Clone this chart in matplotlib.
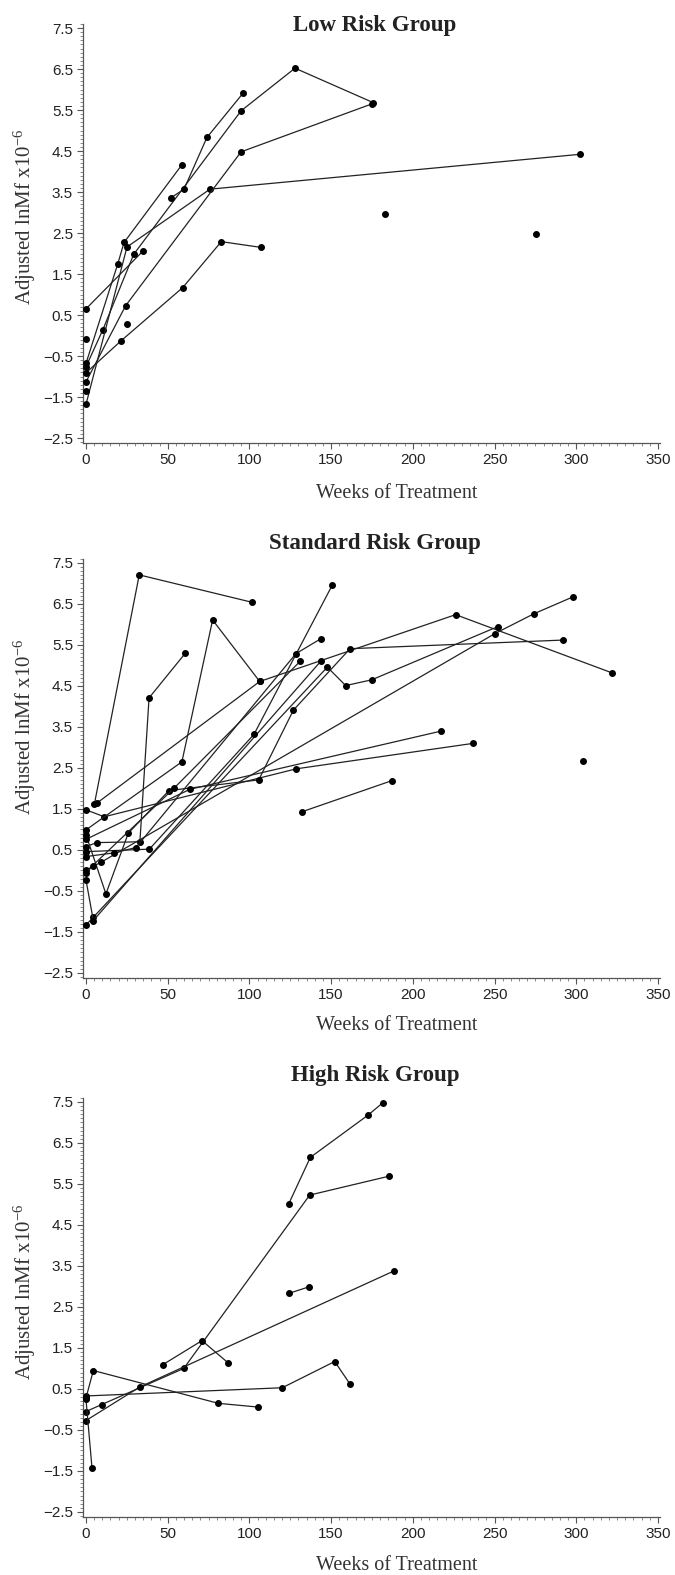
import matplotlib.pyplot as plt
from matplotlib.ticker import MultipleLocator, FormatStrFormatter

serif = 'Liberation Serif'
sans = 'Liberation Sans'
plt.rcParams['mathtext.fontset'] = 'custom'
plt.rcParams['mathtext.rm'] = serif
plt.rcParams['mathtext.it'] = serif + ':italic'
plt.rcParams['mathtext.default'] = 'rm'

# Low Risk Group - one list per subject (weeks, adjusted lnMf)
low_weeks = [
    [0, 35.1],
    [0, 10.2, 29.2, 94.9, 127.9, 175.8],
    [0, 19.4, 23.3, 58.8],
    [0, 25.1, 75.9, 302.3],
    [0, 24.3, 94.9, 175.0],
    [0, 21.4, 59.2, 82.8, 107.1],
    [52.0, 60.0, 74.0, 96.1],
    [0], [0], [25.3], [183.2], [275.4],
]
low_values = [
    [0.65, 2.07],
    [-0.76, 0.13, 1.98, 5.48, 6.52, 5.68],
    [-0.68, 1.74, 2.27, 4.17],
    [-1.68, 2.16, 3.57, 4.42],
    [-1.13, 0.73, 4.48, 5.65],
    [-0.91, -0.13, 1.17, 2.29, 2.15],
    [3.36, 3.57, 4.83, 5.91],
    [-0.09], [-1.35], [0.28], [2.96], [2.48],
]

# Standard Risk Group
std_weeks = [
    [0, 11.2, 128.7, 236.8],
    [5.1, 32.6, 101.8],
    [6.9, 106.3, 226.2, 321.9],
    [0, 6.5, 33.0, 38.6, 60.8],
    [0, 12.2, 25.9, 50.8, 105.7, 126.9, 161.6, 291.9],
    [0, 4.5, 147.7, 158.9, 174.8, 252.1],
    [0, 9.2, 250.3, 274.0, 297.8],
    [0, 4.5, 143.6],
    [0, 38.8, 102.8, 150.7],
    [0, 17.3, 30.6, 128.5, 143.6],
    [0, 4.1, 53.7, 131.0],
    [0, 63.6, 217.3],
    [0, 58.7, 77.5, 106.3],
    [132.0, 187.1],
    [303.9],
]
std_values = [
    [1.48, 1.31, 2.48, 3.10],
    [1.61, 7.21, 6.54],
    [1.65, 4.61, 6.24, 4.82],
    [0.58, 0.68, 0.70, 4.21, 5.30],
    [0.87, -0.57, 0.91, 1.95, 2.21, 3.91, 5.41, 5.62],
    [-1.33, -1.14, 4.96, 4.51, 4.65, 5.95],
    [0.01, 0.20, 5.78, 6.26, 6.67],
    [-0.23, -1.22, 5.10],
    [0.46, 0.52, 3.32, 6.96],
    [0.34, 0.43, 0.56, 5.29, 5.65],
    [-0.07, 0.12, 2.00, 5.10],
    [0.76, 1.98, 3.40],
    [0.99, 2.65, 6.11, 4.61],
    [1.43, 2.19],
    [2.68],
]

# High Risk Group
high_weeks = [
    [0, 120.1, 152.2, 161.4],
    [0, 9.6, 59.8, 136.9, 185.4],
    [0, 33.0, 188.5],
    [0, 4.5, 81.0, 105.1],
    [0, 3.7],
    [46.9, 71.0, 86.9],
    [124.0, 137.3, 172.6, 181.6],
    [124.0, 136.3],
]
high_values = [
    [0.33, 0.53, 1.17, 0.63],
    [-0.05, 0.12, 1.00, 5.23, 5.69],
    [-0.27, 0.55, 3.38],
    [0.28, 0.95, 0.15, 0.06],
    [0.25, -1.43],
    [1.09, 1.68, 1.14],
    [5.01, 6.15, 7.18, 7.48],
    [2.83, 2.99],
]

titles = ['Low Risk Group', 'Standard Risk Group', 'High Risk Group']
groups = [(low_weeks, low_values), (std_weeks, std_values), (high_weeks, high_values)]
yticks = [-2.5, -1.5, -0.5, 0.5, 1.5, 2.5, 3.5, 4.5, 5.5, 6.5, 7.5]

W, H = 675, 1575
fig = plt.figure(figsize=(W / 100, H / 100), dpi=100)

# pixel layout of each panel: axes top, axes bottom, title y, xlabel y, ylabel y
layout = [
    (23.9, 443.0, 25, 493, 217),
    (558.9, 977.9, 543, 1025, 727),
    (1097.9, 1516.9, 1075, 1565, 1292),
]

for (weeks, values), title, (top, bot, ty, xly, yly) in zip(groups, titles, layout):
    ax = fig.add_axes([82.7 / W, 1 - bot / H, 576.9 / W, (bot - top) / H])
    for wk, val in zip(weeks, values):
        ax.plot(wk, val, color='#222222', lw=0.9, marker='o', ms=4,
                mfc='black', mec='black', zorder=3)
    ax.set_xlim(-2, 351)
    ax.set_ylim(-2.62, 7.6)
    ax.spines['top'].set_visible(False)
    ax.spines['right'].set_visible(False)
    for s in ('left', 'bottom'):
        ax.spines[s].set_color('#555555')
        ax.spines[s].set_linewidth(0.9)
    ax.xaxis.set_major_locator(MultipleLocator(50))
    ax.xaxis.set_minor_locator(MultipleLocator(5))
    ax.set_yticks(yticks)
    ax.yaxis.set_minor_locator(MultipleLocator(0.1))
    ax.tick_params(which='major', direction='out', length=4, width=0.8,
                   color='#555555', labelsize=11, pad=3)
    ax.tick_params(which='minor', direction='out', length=2, width=0.6,
                   color='#777777')
    ax.set_yticklabels([('%.1f' % v).replace('-', '\u2212') for v in yticks],
                       family=sans, color='#222222', fontsize=11)
    for lab in ax.get_xticklabels():
        lab.set_family(sans)
        lab.set_color('#222222')

    fig.text(375 / W, 1 - ty / H, title, ha='center', va='center',
             family=serif, fontweight='bold', fontsize=16.5, color='#222222')
    fig.text(397 / W, 1 - xly / H, 'Weeks of Treatment', ha='center',
             va='center', family=serif, fontsize=14.5, color='#333333')
    fig.text(25 / W, 1 - yly / H, r'Adjusted lnMf x10$^{\mathrm{-6}}$',
             ha='center', va='center', rotation=90, family=serif,
             fontsize=15, color='#333333')

fig.savefig('out.png', dpi=100)
plt.close(fig)
